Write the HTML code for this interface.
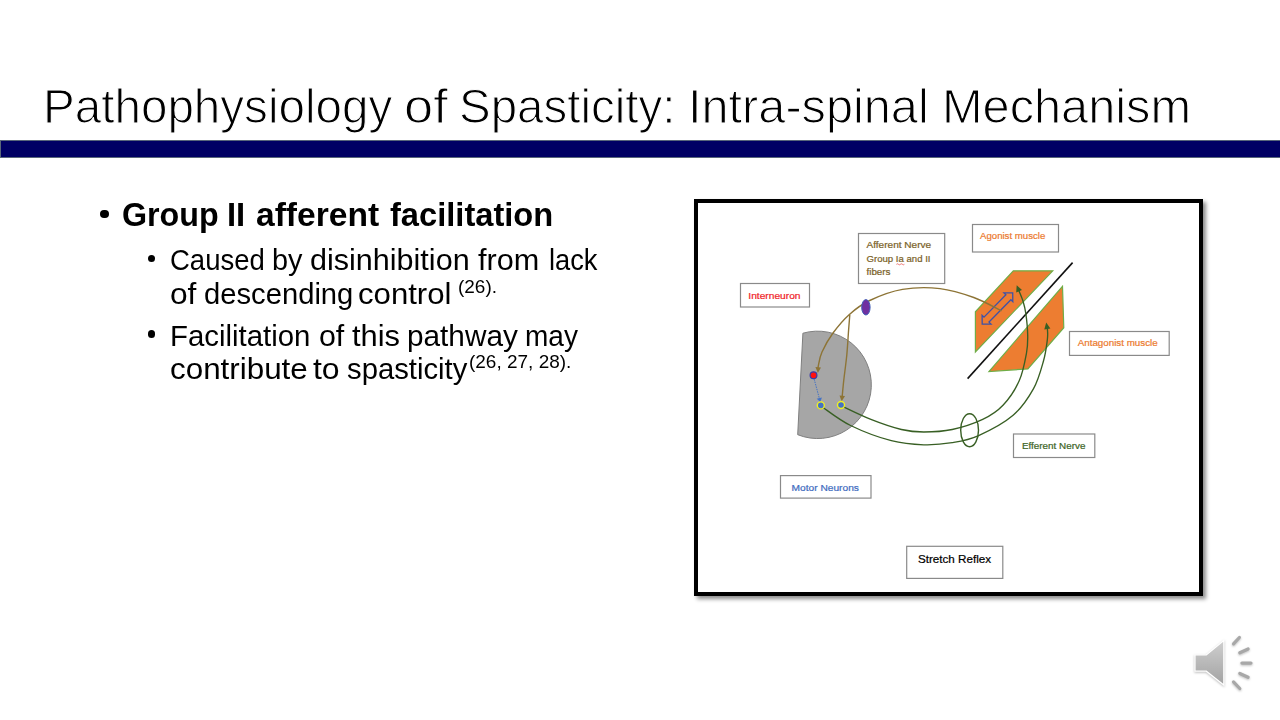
<!DOCTYPE html>
<html><head><meta charset="utf-8"><title>Pathophysiology of Spasticity</title>
<style>
html,body{margin:0;padding:0;background:#fff;}
body{width:1280px;height:720px;position:relative;overflow:hidden;font-family:"Liberation Sans",sans-serif;color:#000;}
.t{position:absolute;white-space:nowrap;line-height:1;transform-origin:0 0;}
.dot{position:absolute;border-radius:50%;background:#000;}

</style></head><body>
<div class="t" id="tw1" style="left:43.18px;top:83.09px;font-size:47.5px;font-weight:normal;transform:scaleX(1.0020);-webkit-text-stroke:1.1px #fff">Pathophysiology</div>
<div class="t" id="tw2" style="left:404.37px;top:83.09px;font-size:47.5px;font-weight:normal;transform:scaleX(1.1027);-webkit-text-stroke:1.1px #fff">of</div>
<div class="t" id="tw3" style="left:459.00px;top:83.09px;font-size:47.5px;font-weight:normal;transform:scaleX(0.9995);-webkit-text-stroke:1.1px #fff">Spasticity:</div>
<div class="t" id="tw4" style="left:688.07px;top:83.09px;font-size:47.5px;font-weight:normal;transform:scaleX(1.0246);-webkit-text-stroke:1.1px #fff">Intra-spinal</div>
<div class="t" id="tw5" style="left:941.90px;top:83.09px;font-size:47.5px;font-weight:normal;transform:scaleX(1.0251);-webkit-text-stroke:1.1px #fff">Mechanism</div>
<div class="t" id="l1a" style="left:121.83px;top:198.24px;font-size:33.5px;font-weight:bold;transform:scaleX(0.9622)">Group</div>
<div class="t" id="l1b" style="left:227.42px;top:198.24px;font-size:33.5px;font-weight:bold;transform:scaleX(0.9800)">II</div>
<div class="t" id="l1c" style="left:256.00px;top:198.24px;font-size:33.5px;font-weight:bold;transform:scaleX(1.0016)">afferent</div>
<div class="t" id="l1d" style="left:389.60px;top:198.24px;font-size:33.5px;font-weight:bold;transform:scaleX(0.9745)">facilitation</div>
<div class="t" id="l2a" style="left:170.07px;top:244.74px;font-size:29.6px;font-weight:normal;transform:scaleX(0.9293)">Caused</div>
<div class="t" id="l2b" style="left:271.64px;top:244.74px;font-size:29.6px;font-weight:normal;transform:scaleX(0.9733)">by</div>
<div class="t" id="l2c" style="left:310.16px;top:244.74px;font-size:29.6px;font-weight:normal;transform:scaleX(1.0322)">disinhibition</div>
<div class="t" id="l2d" style="left:477.57px;top:244.74px;font-size:29.6px;font-weight:normal;transform:scaleX(1.0351)">from</div>
<div class="t" id="l2e" style="left:548.53px;top:244.74px;font-size:29.6px;font-weight:normal;transform:scaleX(0.9216)">lack</div>
<div class="t" id="l3a" style="left:169.71px;top:278.94px;font-size:29.6px;font-weight:normal;transform:scaleX(1.0708)">of</div>
<div class="t" id="l3b" style="left:203.61px;top:278.94px;font-size:29.6px;font-weight:normal;transform:scaleX(0.9865)">descending</div>
<div class="t" id="l3c" style="left:357.92px;top:278.94px;font-size:29.6px;font-weight:normal;transform:scaleX(1.0523)">control</div>
<div class="t" id="s1" style="left:458.17px;top:278.24px;font-size:18.5px;font-weight:normal;transform:scaleX(1.0250)">(26).</div>
<div class="t" id="l4a" style="left:169.81px;top:320.54px;font-size:29.6px;font-weight:normal;transform:scaleX(0.9928)">Facilitation</div>
<div class="t" id="l4b" style="left:319.37px;top:320.54px;font-size:29.6px;font-weight:normal;transform:scaleX(1.0250)">of</div>
<div class="t" id="l4c" style="left:352.35px;top:320.54px;font-size:29.6px;font-weight:normal;transform:scaleX(1.0432)">this</div>
<div class="t" id="l4d" style="left:407.18px;top:320.54px;font-size:29.6px;font-weight:normal;transform:scaleX(1.0056)">pathway</div>
<div class="t" id="l4e" style="left:525.30px;top:320.54px;font-size:29.6px;font-weight:normal;transform:scaleX(0.9463)">may</div>
<div class="t" id="l5a" style="left:169.55px;top:354.34px;font-size:29.6px;font-weight:normal;transform:scaleX(1.0602)">contribute</div>
<div class="t" id="l5b" style="left:313.20px;top:354.34px;font-size:29.6px;font-weight:normal;transform:scaleX(1.0792)">to</div>
<div class="t" id="l5c" style="left:346.80px;top:354.34px;font-size:29.6px;font-weight:normal;transform:scaleX(0.9884)">spasticity</div>
<div class="t" id="s2" style="left:469.16px;top:353.24px;font-size:18.5px;font-weight:normal;transform:scaleX(1.0258)">(26, 27, 28).</div>
<div style="position:absolute;left:0;top:140px;width:1290px;height:18px;box-sizing:border-box;background:#000064;border:1px solid #59677a"></div>
<div class="dot" style="left:100px;top:209.5px;width:8.5px;height:8.5px"></div>
<div class="dot" style="left:147.6px;top:254.7px;width:7.6px;height:7.6px"></div>
<div class="dot" style="left:147.6px;top:330.2px;width:7.6px;height:7.6px"></div>

<div style="position:absolute;left:694px;top:199px;width:509px;height:397px;box-sizing:border-box;border:4px solid #000;background:#fff;box-shadow:2.5px 3px 4px rgba(0,0,0,0.45)"></div>
<svg style="position:absolute;left:0;top:0" width="1280" height="720" viewBox="0 0 1280 720" font-family="Liberation Sans, sans-serif">
<defs><linearGradient id="sg" x1="0" y1="0" x2="0" y2="1"><stop offset="0" stop-color="#cfcfcf"/><stop offset="1" stop-color="#a2a2a2"/></linearGradient></defs>
<rect x="740.5" y="283.5" width="69.0" height="23.5" fill="#fff" stroke="#8a8a8a" stroke-width="1.2"/><text x="748.3" y="298.9" fill="#f01e28" stroke="#f01e28" stroke-width="0.22" font-size="9.7" font-weight="normal" textLength="52.2" lengthAdjust="spacingAndGlyphs">Interneuron</text>
<rect x="858.5" y="233.5" width="86.2" height="50" fill="#fff" stroke="#8a8a8a" stroke-width="1.2"/>
<text fill="#7a6128" stroke="#7a6128" stroke-width="0.22" font-size="9.7"><tspan x="866.5" y="248.3" textLength="64.7" lengthAdjust="spacingAndGlyphs">Afferent Nerve</tspan><tspan x="866.5" y="262.3" textLength="64" lengthAdjust="spacingAndGlyphs">Group Ia and II</tspan><tspan x="866.5" y="275.4" textLength="24" lengthAdjust="spacingAndGlyphs">fibers</tspan></text>
<path d="M 896.4 264.3 q 1 -1 2 0 q 1 1 2 0 q 1 -1 2 0 q 1 1 2 0" fill="none" stroke="#e02020" stroke-width="0.6"/>
<rect x="972.5" y="224.5" width="86.0" height="27.5" fill="#fff" stroke="#8a8a8a" stroke-width="1.2"/><text x="980.0" y="238.9" fill="#ec7a2e" stroke="#ec7a2e" stroke-width="0.22" font-size="9.7" font-weight="normal" textLength="65.3" lengthAdjust="spacingAndGlyphs">Agonist muscle</text>
<rect x="1069.5" y="331.5" width="99.7" height="23.9" fill="#fff" stroke="#8a8a8a" stroke-width="1.2"/><text x="1077.7" y="346.0" fill="#ec7a2e" stroke="#ec7a2e" stroke-width="0.22" font-size="9.7" font-weight="normal" textLength="80.0" lengthAdjust="spacingAndGlyphs">Antagonist muscle</text>
<rect x="1013.5" y="434.0" width="81.3" height="23.5" fill="#fff" stroke="#8a8a8a" stroke-width="1.2"/><text x="1021.9" y="449.2" fill="#3d6426" stroke="#3d6426" stroke-width="0.22" font-size="9.7" font-weight="normal" textLength="63.5" lengthAdjust="spacingAndGlyphs">Efferent Nerve</text>
<rect x="780.5" y="475.6" width="90.5" height="22.5" fill="#fff" stroke="#8a8a8a" stroke-width="1.2"/><text x="791.5" y="490.9" fill="#3f6cc0" stroke="#3f6cc0" stroke-width="0.22" font-size="9.7" font-weight="normal" textLength="67.4" lengthAdjust="spacingAndGlyphs">Motor Neurons</text>
<rect x="906.7" y="546.3" width="96.1" height="32.1" fill="#fff" stroke="#8a8a8a" stroke-width="1.2"/><text x="917.9" y="563.1" fill="#000" stroke="#000" stroke-width="0.22" font-size="11.8" font-weight="normal" textLength="73.2" lengthAdjust="spacingAndGlyphs">Stretch Reflex</text>
<path d="M 802.9 333.2 A 53.7 53.7 0 1 1 797.7 434.7 Z" fill="#a6a6a6" stroke="#7f7f7f" stroke-width="1"/>
<polygon points="1013.3,270.8 1052.7,270.8 975.4,352 975.4,311.8" fill="#ed7d31" stroke="#70ad47" stroke-width="1.2"/>
<polygon points="1062.5,286.3 1063.8,327.7 1027.9,368.9 989,371.5" fill="#ed7d31" stroke="#70ad47" stroke-width="1.2"/>
<line x1="967.6" y1="378.6" x2="1072.6" y2="262.6" stroke="#111" stroke-width="1.6"/>
<polygon points="982.2,324.1 982.1,315.3 984.0,317.2 1005.9,294.8 1003.9,292.9 1012.7,292.8 1012.8,301.6 1010.9,299.7 989.0,322.1 991.0,324.0" fill="none" stroke="#3d52a8" stroke-width="1.3"/>
<path d="M 1001.5 310.8 C 996.9 308.6 984.0 301.2 973.8 297.5 C 963.5 293.8 951.9 290.0 940.0 288.6 C 928.1 287.2 914.2 287.4 902.5 289.4 C 890.8 291.4 878.6 296.3 869.7 300.5 C 860.9 304.7 855.5 309.0 849.4 314.4 C 843.3 319.8 837.6 326.7 833.0 333.0 C 828.4 339.3 824.5 346.5 822.0 352.0 C 819.5 357.5 818.9 363.2 818.3 366.0 C 817.7 368.8 818.2 368.5 818.1 369.0" fill="none" stroke="#8d7436" stroke-width="1.40"/><path d="M 817.9 372.9 L 815.4 367.1 L 821.0 367.5 Z" fill="#8d7436"/>
<path d="M 849.8 314.8 C 849.6 317.3 849.1 323.3 848.6 330.0 C 848.1 336.7 847.6 346.7 846.8 355.0 C 846.0 363.3 844.6 372.9 843.8 380.0 C 843.0 387.1 842.4 394.5 842.1 397.4" fill="none" stroke="#8d7436" stroke-width="1.40"/><path d="M 841.7 401.3 L 839.5 395.5 L 845.0 396.0 Z" fill="#8d7436"/>
<path d="M 840.9 405.6 C 845.9 407.9 860.8 415.4 870.9 419.4 C 881.0 423.4 892.6 427.4 901.4 429.5 C 910.2 431.6 915.3 432.0 923.8 432.0 C 932.3 432.0 942.4 431.6 952.2 429.5 C 962.0 427.4 974.2 423.4 982.7 419.4 C 991.2 415.3 996.9 411.6 1003.0 405.2 C 1009.1 398.8 1015.3 389.5 1019.2 380.8 C 1023.1 372.1 1025.1 360.6 1026.5 353.0 C 1027.9 345.4 1027.8 341.6 1027.7 335.0 C 1027.6 328.4 1026.6 319.0 1025.8 313.3 C 1025.0 307.6 1024.1 304.8 1022.9 300.8 C 1021.7 296.8 1019.1 291.3 1018.4 289.4" fill="none" stroke="#385f24" stroke-width="1.35"/><path d="M 1016.7 285.2 L 1022.0 290.1 L 1016.2 292.4 Z" fill="#385f24"/>
<path d="M 821.2 406.2 C 826.1 409.4 838.9 419.8 850.6 425.5 C 862.3 431.2 879.1 437.5 891.3 440.7 C 903.5 443.9 913.6 444.5 923.8 444.8 C 933.9 445.1 943.1 444.2 952.2 442.7 C 961.3 441.2 968.5 440.2 978.6 435.6 C 988.8 431.0 1004.0 423.1 1013.1 415.3 C 1022.2 407.5 1028.3 398.0 1033.4 388.9 C 1038.5 379.8 1041.3 368.6 1043.6 360.5 C 1045.9 352.4 1046.6 345.1 1047.3 340.0 C 1048.0 334.9 1047.6 332.2 1047.5 330.0 C 1047.4 327.8 1047.1 327.5 1047.0 327.0" fill="none" stroke="#385f24" stroke-width="1.35"/><path d="M 1046.2 322.5 L 1050.4 328.4 L 1044.3 329.4 Z" fill="#385f24"/>
<ellipse cx="969.6" cy="430.2" rx="8.9" ry="16.5" fill="none" stroke="#385f24" stroke-width="1.4"/>
<ellipse cx="865.9" cy="307.3" rx="4.2" ry="7.7" fill="#7030a0" stroke="#3f5fb8" stroke-width="1"/>
<path d="M 814.2 379.2 L 819.5 399" stroke="#4472c4" stroke-width="1" stroke-dasharray="1.5 1" fill="none"/>
<path d="M 820.3 402.0 L 816.7 398.8 L 821.9 397.4 Z" fill="#4472c4"/>
<circle cx="813.5" cy="375.2" r="3.4" fill="#ff1010" stroke="#3a3aa8" stroke-width="1.2"/>
<circle cx="820.8" cy="405.4" r="3.5" fill="#4472c4" stroke="#f0f020" stroke-width="1.4"/>
<circle cx="841" cy="405" r="3.5" fill="#4472c4" stroke="#f0f020" stroke-width="1.4"/>
<g style="filter:drop-shadow(0.5px 1px 1px rgba(0,0,0,0.25))"><polygon points="1195,655 1206.3,655 1223.8,640.6 1223.8,685 1206.3,671.2 1195,671.2" fill="url(#sg)" stroke="#fff" stroke-width="1.2"/>
<line x1="1233.5" y1="643.8" x2="1239.4" y2="637.5" stroke="#a8a8a8" stroke-width="3.2" stroke-linecap="round"/>
<line x1="1239.8" y1="652.8" x2="1248.1" y2="649.0" stroke="#a8a8a8" stroke-width="3.2" stroke-linecap="round"/>
<line x1="1241.9" y1="663.1" x2="1251.0" y2="663.1" stroke="#a8a8a8" stroke-width="3.2" stroke-linecap="round"/>
<line x1="1239.8" y1="673.5" x2="1248.1" y2="677.3" stroke="#a8a8a8" stroke-width="3.2" stroke-linecap="round"/>
<line x1="1233.5" y1="681.9" x2="1239.8" y2="688.5" stroke="#a8a8a8" stroke-width="3.2" stroke-linecap="round"/></g>
</svg>
</body></html>
